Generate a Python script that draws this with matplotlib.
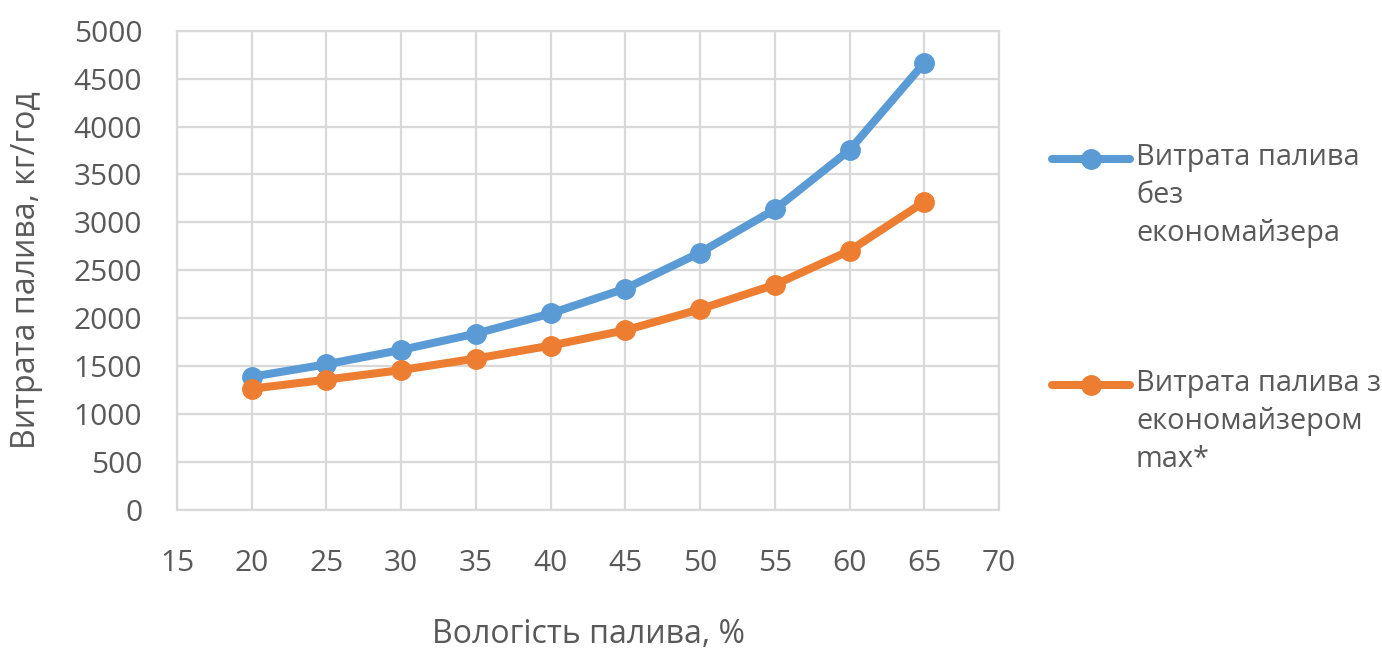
import matplotlib.pyplot as plt
from matplotlib.lines import Line2D

# Fuel moisture, % and fuel consumption, kg/h
moisture = [20, 25, 30, 35, 40, 45, 50, 55, 60, 65]
no_economizer = [1390, 1520, 1670, 1840, 2050, 2310, 2685, 3135, 3755, 4665]
with_economizer = [1265, 1360, 1460, 1580, 1715, 1875, 2095, 2350, 2705, 3215]

series_labels = [
    "Витрата палива\nбез\nекономайзера",
    "Витрата палива з\nекономайзером\nmax*",
]
x_label = "Вологість палива, %"
y_label = "Витрата палива, кг/год"

x_ticks = list(range(15, 71, 5))
y_ticks = list(range(0, 5001, 500))

BLUE = "#5B9BD5"
ORANGE = "#ED7D31"
TEXT = "#595959"
GRID = "#D9D9D9"

plt.rcParams["font.family"] = ["Open Sans", "DejaVu Sans"]

fig = plt.figure(figsize=(13.82, 6.53), dpi=100)
ax = fig.add_axes([0.1281, 0.219, 0.5948, 0.734])

line_kw = dict(linewidth=5.8, marker="o", markersize=14, solid_capstyle="round",
               solid_joinstyle="round", clip_on=False, zorder=3)
ax.plot(moisture, no_economizer, color=BLUE, **line_kw)
ax.plot(moisture, with_economizer, color=ORANGE, **line_kw)

ax.set_xlim(15, 70)
ax.set_ylim(0, 5000)
ax.set_xticks(x_ticks)
ax.set_yticks(y_ticks)
ax.grid(True, color=GRID, linewidth=1.6, zorder=0)
ax.set_axisbelow(True)
for side in ax.spines.values():
    side.set_color(GRID)
    side.set_linewidth(1.6)
ax.tick_params(length=0, labelsize=21.5, colors=TEXT)
ax.tick_params(axis="y", pad=25)
ax.tick_params(axis="x", pad=28)

ax.set_xlabel(x_label, fontsize=23, color=TEXT, labelpad=29)
ax.set_ylabel(y_label, fontsize=23, color=TEXT, labelpad=22)

# Legend drawn beside the plot, one entry per series
W, H = fig.get_size_inches() * fig.dpi
legend_rows = [159, 385]
for color, label, ypix in zip([BLUE, ORANGE], series_labels, legend_rows):
    y = 1 - ypix / H
    fig.add_artist(Line2D([1052 / W, 1130 / W], [y, y], color=color, linewidth=5.8,
                          solid_capstyle="round", transform=fig.transFigure))
    fig.add_artist(Line2D([1091 / W], [y], color=color, marker="o", markersize=14,
                          transform=fig.transFigure))
    fig.text(1136 / W, y + 16 / H, label, fontsize=20.8, color=TEXT,
             ha="left", va="top", linespacing=1.42)

fig.savefig("out.png", dpi=100)
